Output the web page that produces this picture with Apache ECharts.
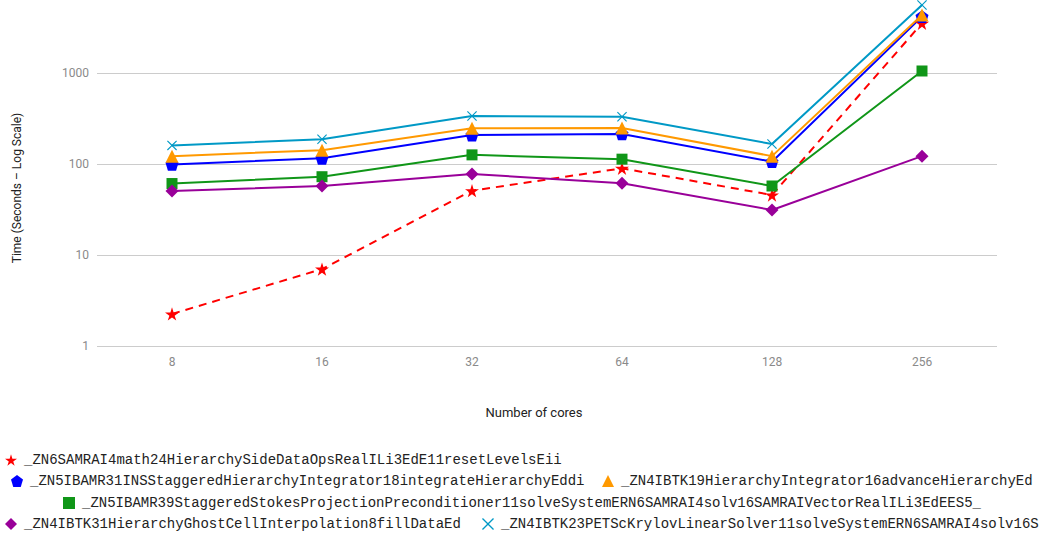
<!DOCTYPE html>
<html>
<head>
<meta charset="utf-8">
<script src="https://cdn.jsdelivr.net/npm/echarts@6/dist/echarts.min.js"></script>
<style>
  html, body { margin: 0; padding: 0; background: #fff; }
  #chart { width: 1041px; height: 538px; }
</style>
</head>
<body>
<div id="chart"></div>
<script>
// Core counts on the x axis
const cores = ['8', '16', '32', '64', '128', '256'];

// Function names (mangled symbols) for each timed routine
const names = [
  '_ZN6SAMRAI4math24HierarchySideDataOpsRealILi3EdE11resetLevelsEii',
  '_ZN5IBAMR31INSStaggeredHierarchyIntegrator18integrateHierarchyEddi',
  '_ZN4IBTK19HierarchyIntegrator16advanceHierarchyEd',
  '_ZN5IBAMR39StaggeredStokesProjectionPreconditioner11solveSystemERN6SAMRAI4solv16SAMRAIVectorRealILi3EdEES5_',
  '_ZN4IBTK31HierarchyGhostCellInterpolation8fillDataEd',
  '_ZN4IBTK23PETScKrylovLinearSolver11solveSystemERN6SAMRAI4solv16S'
];

// Time in seconds per core count
const resetLevels     = [2.25, 7.0, 50.9, 89.7, 45.6, 3520];
const integrateHier   = [99, 115.5, 208, 214, 106, 4160];
const advanceHier     = [122, 142, 247, 249, 122, 4340];
const stokesSolve     = [61, 72.5, 126, 113, 57.3, 1052];
const ghostFill       = [50.5, 57.3, 77.6, 61.4, 31.2, 122];
const krylovSolve     = [160, 187, 337, 330, 166, 5590];

const seriesValues = [resetLevels, integrateHier, advanceHier, stokesSolve, ghostFill, krylovSolve];

// Log axis range (seconds)
const yMin = 1;
const yMax = 6340;

// Marker shapes
const STAR = 'path://M50,0 L61,35 L98,35 L68,57 L79,91 L50,70 L21,91 L32,57 L2,35 L39,35 Z';
const PENTAGON = 'path://M50,0 L98,36 L80,95 L20,95 L2,36 Z';
const CROSS = 'path://M0,8 L8,0 L50,42 L92,0 L100,8 L58,50 L100,92 L92,100 L50,58 L8,100 L0,92 L42,50 Z';

const styles = [
  { color: '#ff0000', symbol: STAR, size: 14, dash: 'dashed' },
  { color: '#0000ff', symbol: PENTAGON, size: 13, dash: 'solid' },
  { color: '#ff9900', symbol: 'triangle', size: 13, dash: 'solid' },
  { color: '#109618', symbol: 'rect', size: 11, dash: 'solid' },
  { color: '#990099', symbol: 'diamond', size: 13, dash: 'solid' },
  { color: '#0099c6', symbol: CROSS, size: 10, dash: 'solid' }
];

// Legend rows: [left, top] for each entry
const legendSpots = [[5, 453], [11, 474], [602, 474], [63, 496], [5, 517], [482, 517]];

const chart = echarts.init(document.getElementById('chart'), null, { renderer: 'svg' });

const option = {
  animation: false,
  backgroundColor: '#ffffff',
  grid: { left: 97, right: 44, top: 0, bottom: 192, containLabel: false },
  xAxis: {
    type: 'category',
    data: cores,
    boundaryGap: true,
    axisLine: { show: false },
    axisTick: { show: false },
    axisLabel: { color: '#8a8a8a', fontFamily: 'Roboto', fontSize: 12, margin: 10 },
    splitLine: { show: false }
  },
  yAxis: {
    type: 'log',
    logBase: 10,
    min: yMin,
    max: yMax,
    axisLine: { show: false },
    axisTick: { show: false },
    axisLabel: {
      color: '#8a8a8a', fontFamily: 'Roboto', fontSize: 12, margin: 8,
      showMaxLabel: false,
      formatter: v => String(Math.round(v))
    },
    splitLine: { show: true, showMaxLine: false, lineStyle: { color: '#cccccc', width: 1 } }
  },
  legend: names.map((n, i) => ({
    data: [{ name: n, icon: styles[i].symbol }],
    left: legendSpots[i][0],
    top: legendSpots[i][1],
    padding: 0,
    itemWidth: 12,
    itemHeight: 12,
    itemGap: 0,
    selectedMode: false,
    textStyle: { fontFamily: 'Liberation Mono', fontSize: 14, color: '#222222', padding: [0, 0, 0, 2] }
  })),
  graphic: [
    {
      type: 'text',
      x: 17,
      y: 188,
      rotation: Math.PI / 2,
      style: {
        text: 'Time (Seconds – Log Scale)',
        fontFamily: 'Roboto',
        fontSize: 12,
        fill: '#222222',
        align: 'center',
        verticalAlign: 'middle'
      }
    },
    {
      type: 'text',
      x: 534,
      y: 412,
      style: {
        text: 'Number of cores',
        fontFamily: 'Roboto',
        fontSize: 13,
        fill: '#222222',
        align: 'center',
        verticalAlign: 'middle'
      }
    }
  ],
  series: names.map((n, i) => ({
    name: n,
    type: 'line',
    data: seriesValues[i],
    symbol: styles[i].symbol,
    symbolSize: styles[i].size,
    symbolKeepAspect: true,
    showAllSymbol: true,
    clip: false,
    itemStyle: { color: styles[i].color, borderWidth: 0 },
    lineStyle: { color: styles[i].color, width: 2, type: styles[i].dash === 'dashed' ? [8, 6] : 'solid' },
    emphasis: { disabled: true }
  }))
};

chart.setOption(option);
</script>
</body>
</html>
